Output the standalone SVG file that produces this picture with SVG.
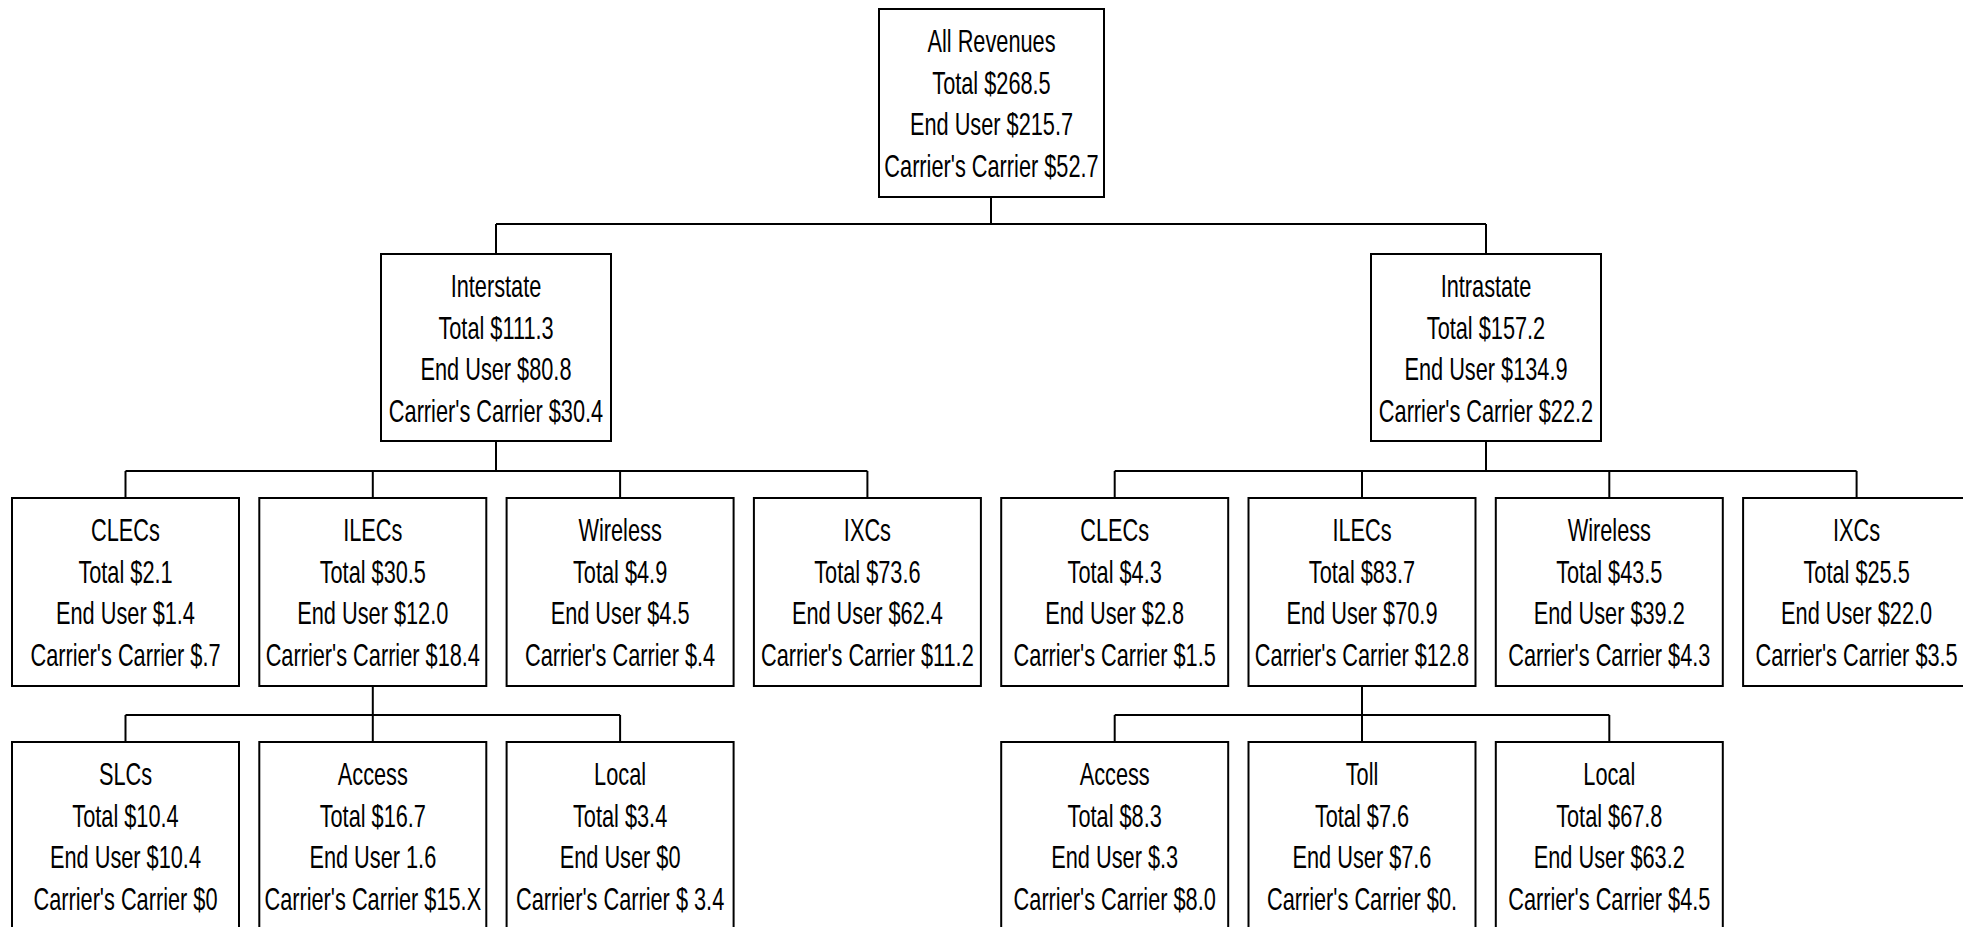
<svg xmlns="http://www.w3.org/2000/svg" width="1963" height="927" viewBox="0 0 1963 927">
<style>
rect{fill:#fff;stroke:#000;stroke-width:2}
.c line{stroke:#000;stroke-width:2}
text{font-family:"Liberation Sans",Arial,sans-serif;font-size:30.5px;fill:#000;text-anchor:middle}
</style>
<rect x="0" y="0" width="1963" height="927" style="stroke:none"/>
<g class="c" id="connectors">
<line x1="991" y1="197" x2="991" y2="224"/>
<line x1="496" y1="224" x2="1486" y2="224"/>
<line x1="496" y1="224" x2="496" y2="254"/>
<line x1="1486" y1="224" x2="1486" y2="254"/>
<line x1="496" y1="441" x2="496" y2="471"/>
<line x1="125.5" y1="471" x2="867.4" y2="471"/>
<line x1="125.5" y1="471" x2="125.5" y2="498"/>
<line x1="372.8" y1="471" x2="372.8" y2="498"/>
<line x1="620.1" y1="471" x2="620.1" y2="498"/>
<line x1="867.4" y1="471" x2="867.4" y2="498"/>
<line x1="1486" y1="441" x2="1486" y2="471"/>
<line x1="1114.7" y1="471" x2="1856.6" y2="471"/>
<line x1="1114.7" y1="471" x2="1114.7" y2="498"/>
<line x1="1362" y1="471" x2="1362" y2="498"/>
<line x1="1609.3" y1="471" x2="1609.3" y2="498"/>
<line x1="1856.6" y1="471" x2="1856.6" y2="498"/>
<line x1="372.8" y1="686" x2="372.8" y2="715"/>
<line x1="125.5" y1="715" x2="620.1" y2="715"/>
<line x1="125.5" y1="715" x2="125.5" y2="742"/>
<line x1="372.8" y1="715" x2="372.8" y2="742"/>
<line x1="620.1" y1="715" x2="620.1" y2="742"/>
<line x1="1362" y1="686" x2="1362" y2="715"/>
<line x1="1114.7" y1="715" x2="1609.3" y2="715"/>
<line x1="1114.7" y1="715" x2="1114.7" y2="742"/>
<line x1="1362" y1="715" x2="1362" y2="742"/>
<line x1="1609.3" y1="715" x2="1609.3" y2="742"/>
</g>
<g id="root"><rect x="879" y="9" width="225" height="188"/>
<text transform="translate(991.5,0) scale(0.713,1)"><tspan x="0" y="52">All Revenues</tspan><tspan x="0" y="94">Total  $268.5</tspan><tspan x="0" y="135">End User $215.7</tspan><tspan x="0" y="177">Carrier's Carrier $52.7</tspan></text></g>
<g id="interstate"><rect x="381" y="254" width="230" height="187"/>
<text transform="translate(496,0) scale(0.713,1)"><tspan x="0" y="297">Interstate</tspan><tspan x="0" y="339">Total $111.3</tspan><tspan x="0" y="380">End User $80.8</tspan><tspan x="0" y="422">Carrier's Carrier $30.4</tspan></text></g>
<g id="intrastate"><rect x="1371" y="254" width="230" height="187"/>
<text transform="translate(1486,0) scale(0.713,1)"><tspan x="0" y="297">Intrastate</tspan><tspan x="0" y="339">Total $157.2</tspan><tspan x="0" y="380">End User $134.9</tspan><tspan x="0" y="422">Carrier's Carrier $22.2</tspan></text></g>
<g id="inter-clecs"><rect x="12" y="498" width="227" height="188"/>
<text transform="translate(125.5,0) scale(0.713,1)"><tspan x="0" y="541">CLECs</tspan><tspan x="0" y="583">Total $2.1</tspan><tspan x="0" y="624">End User $1.4</tspan><tspan x="0" y="666">Carrier's Carrier $.7</tspan></text></g>
<g id="inter-ilecs"><rect x="259.3" y="498" width="227" height="188"/>
<text transform="translate(372.8,0) scale(0.713,1)"><tspan x="0" y="541">ILECs</tspan><tspan x="0" y="583">Total $30.5</tspan><tspan x="0" y="624">End User $12.0</tspan><tspan x="0" y="666">Carrier's Carrier $18.4</tspan></text></g>
<g id="inter-wireless"><rect x="506.6" y="498" width="227" height="188"/>
<text transform="translate(620.1,0) scale(0.713,1)"><tspan x="0" y="541">Wireless</tspan><tspan x="0" y="583">Total $4.9</tspan><tspan x="0" y="624">End User $4.5</tspan><tspan x="0" y="666">Carrier's Carrier $.4</tspan></text></g>
<g id="inter-ixcs"><rect x="753.9" y="498" width="227" height="188"/>
<text transform="translate(867.4,0) scale(0.713,1)"><tspan x="0" y="541">IXCs</tspan><tspan x="0" y="583">Total $73.6</tspan><tspan x="0" y="624">End User $62.4</tspan><tspan x="0" y="666">Carrier's Carrier $11.2</tspan></text></g>
<g id="intra-clecs"><rect x="1001.2" y="498" width="227" height="188"/>
<text transform="translate(1114.7,0) scale(0.713,1)"><tspan x="0" y="541">CLECs</tspan><tspan x="0" y="583">Total $4.3</tspan><tspan x="0" y="624">End User $2.8</tspan><tspan x="0" y="666">Carrier's Carrier $1.5</tspan></text></g>
<g id="intra-ilecs"><rect x="1248.5" y="498" width="227" height="188"/>
<text transform="translate(1362,0) scale(0.713,1)"><tspan x="0" y="541">ILECs</tspan><tspan x="0" y="583">Total $83.7</tspan><tspan x="0" y="624">End User $70.9</tspan><tspan x="0" y="666">Carrier's Carrier $12.8</tspan></text></g>
<g id="intra-wireless"><rect x="1495.8" y="498" width="227" height="188"/>
<text transform="translate(1609.3,0) scale(0.713,1)"><tspan x="0" y="541">Wireless</tspan><tspan x="0" y="583">Total $43.5</tspan><tspan x="0" y="624">End User $39.2</tspan><tspan x="0" y="666">Carrier's Carrier $4.3</tspan></text></g>
<g id="intra-ixcs"><rect x="1743.1" y="498" width="227" height="188"/>
<text transform="translate(1856.6,0) scale(0.713,1)"><tspan x="0" y="541">IXCs</tspan><tspan x="0" y="583">Total $25.5</tspan><tspan x="0" y="624">End User $22.0</tspan><tspan x="0" y="666">Carrier's Carrier $3.5</tspan></text></g>
<g id="inter-slcs"><rect x="12" y="742" width="227" height="188"/>
<text transform="translate(125.5,0) scale(0.713,1)"><tspan x="0" y="785">SLCs</tspan><tspan x="0" y="827">Total $10.4</tspan><tspan x="0" y="868">End User $10.4</tspan><tspan x="0" y="910">Carrier's Carrier $0</tspan></text></g>
<g id="inter-access"><rect x="259.3" y="742" width="227" height="188"/>
<text transform="translate(372.8,0) scale(0.713,1)"><tspan x="0" y="785">Access</tspan><tspan x="0" y="827">Total $16.7</tspan><tspan x="0" y="868">End User 1.6</tspan><tspan x="0" y="910">Carrier's Carrier $15.X</tspan></text></g>
<g id="inter-local"><rect x="506.6" y="742" width="227" height="188"/>
<text transform="translate(620.1,0) scale(0.713,1)"><tspan x="0" y="785">Local</tspan><tspan x="0" y="827">Total $3.4</tspan><tspan x="0" y="868">End User $0</tspan><tspan x="0" y="910">Carrier's Carrier $ 3.4</tspan></text></g>
<g id="intra-access"><rect x="1001.2" y="742" width="227" height="188"/>
<text transform="translate(1114.7,0) scale(0.713,1)"><tspan x="0" y="785">Access</tspan><tspan x="0" y="827">Total $8.3</tspan><tspan x="0" y="868">End User $.3</tspan><tspan x="0" y="910">Carrier's Carrier $8.0</tspan></text></g>
<g id="intra-toll"><rect x="1248.5" y="742" width="227" height="188"/>
<text transform="translate(1362,0) scale(0.713,1)"><tspan x="0" y="785">Toll</tspan><tspan x="0" y="827">Total $7.6</tspan><tspan x="0" y="868">End User $7.6</tspan><tspan x="0" y="910">Carrier's Carrier $0.</tspan></text></g>
<g id="intra-local"><rect x="1495.8" y="742" width="227" height="188"/>
<text transform="translate(1609.3,0) scale(0.713,1)"><tspan x="0" y="785">Local</tspan><tspan x="0" y="827">Total $67.8</tspan><tspan x="0" y="868">End User $63.2</tspan><tspan x="0" y="910">Carrier's Carrier $4.5</tspan></text></g>
</svg>
